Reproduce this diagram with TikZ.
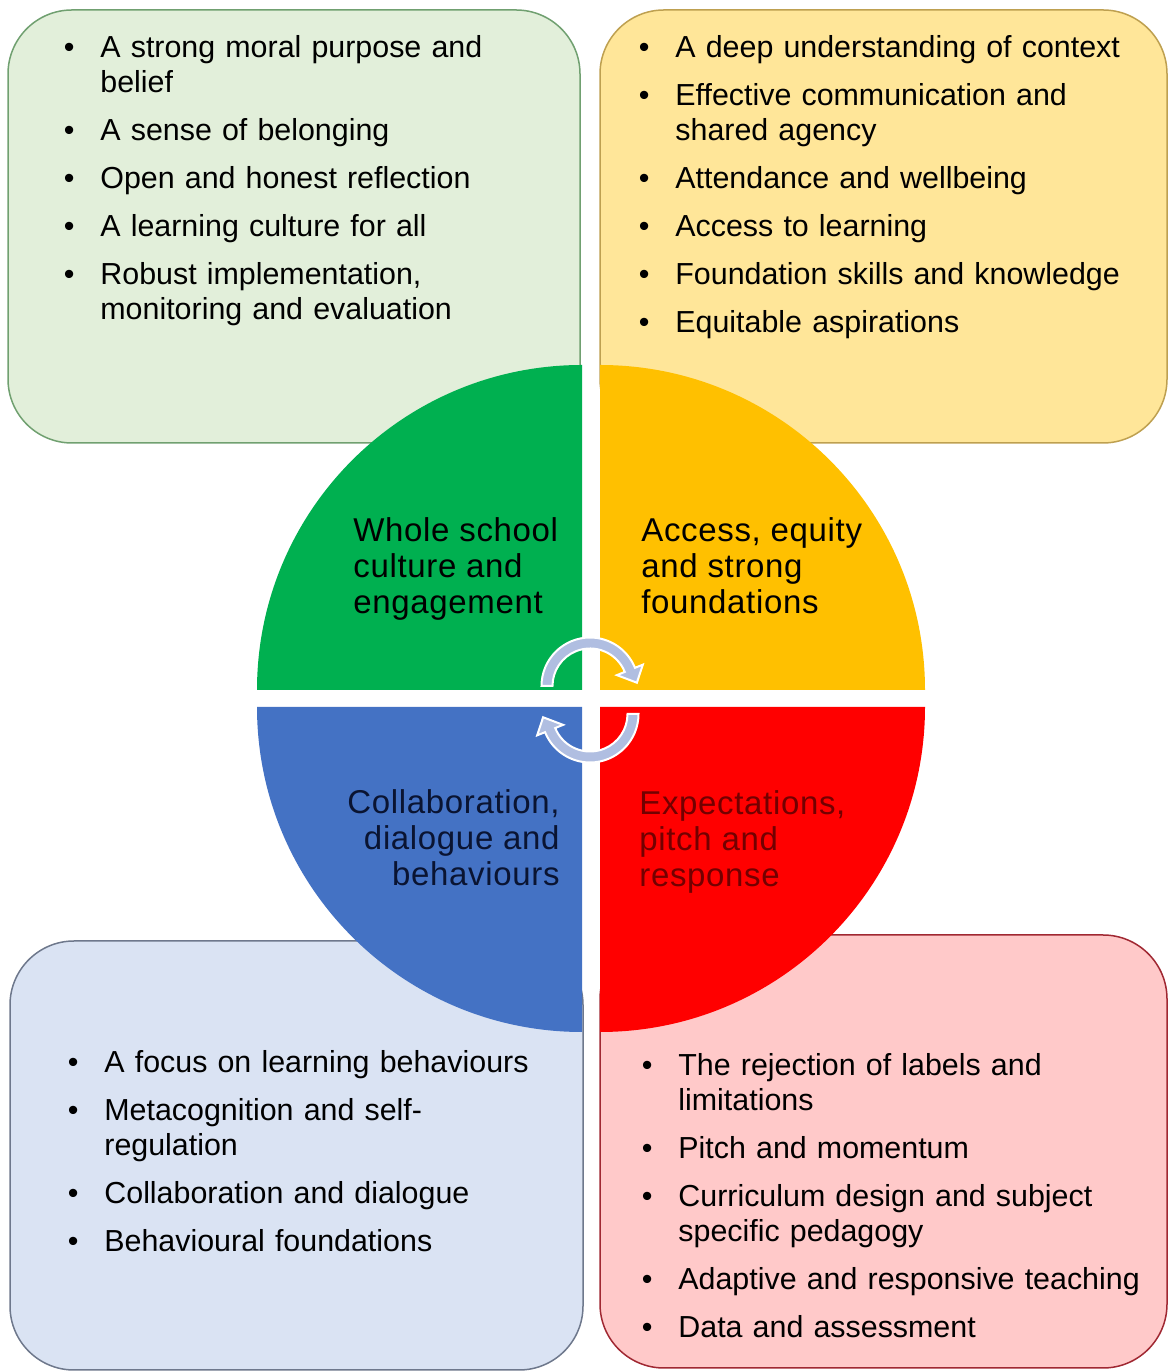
\documentclass[tikz,border=0pt]{standalone}
\usepackage{fontspec}
\setmainfont{Liberation Sans}
\usetikzlibrary{fit}

\definecolor{wheelgreen}{RGB}{0,176,80}
\definecolor{wheelyellow}{RGB}{255,192,0}
\definecolor{wheelblue}{RGB}{68,114,196}
\definecolor{wheelred}{RGB}{255,0,0}
\definecolor{greenpanel}{RGB}{226,239,218}
\definecolor{greenedge}{RGB}{112,160,112}
\definecolor{yellowpanel}{RGB}{255,230,153}
\definecolor{yellowedge}{RGB}{190,160,80}
\definecolor{bluepanel}{RGB}{218,227,243}
\definecolor{blueedge}{RGB}{110,120,140}
\definecolor{redpanel}{RGB}{255,201,201}
\definecolor{rededge}{RGB}{160,40,50}
\definecolor{turnblue}{RGB}{176,190,225}
\definecolor{navytext}{RGB}{10,20,50}
\definecolor{maroontext}{RGB}{115,0,0}

% bulleted list used inside the four panels
\newcommand{\pointlist}[1]{%
  \begin{list}{\textbullet}{%
    \setlength{\leftmargin}{20pt}\setlength{\labelsep}{13pt}%
    \setlength{\labelwidth}{7pt}\setlength{\topsep}{0pt}%
    \setlength{\partopsep}{0pt}\setlength{\parsep}{0pt}%
    \setlength{\itemsep}{6.5pt}}#1\end{list}}

\tikzset{
  panel/.style={draw, line width=0.75pt, rounded corners=32pt, inner sep=0pt},
  points/.style={anchor=north west, inner sep=0pt, text width=262pt, align=left,
    font=\fontsize{15.2}{17.5}\selectfont},
  quarter/.style={inner sep=0pt,
    font=\fontsize{16.5}{18}\selectfont\addfontfeature{LetterSpace=2}},
  turn/.style={fill=turnblue, draw=white, line width=1pt}
}

\begin{document}
\begin{tikzpicture}[x=0.5pt, y=0.5pt]
    \useasboundingbox (0,0) rectangle (1168,1371);

    % panels
    \node[panel, draw=greenedge, fill=greenpanel, fit={(8,928) (580,1361)}] (culturebox) {};
    \node[panel, draw=yellowedge, fill=yellowpanel, fit={(600,928) (1167,1361)}] (accessbox) {};
    \node[panel, draw=blueedge, fill=bluepanel, fit={(10,1) (583,430)}] (collabbox) {};
    \node[panel, draw=rededge, fill=redpanel, fit={(600,3) (1167,436)}] (expectbox) {};

    % the wheel
    \fill[wheelgreen] (582,681) -- ++(-325,0) arc[start angle=180, end angle=90, radius=325] -- cycle;
    \fill[wheelyellow] (600,681) -- ++(0,325) arc[start angle=90, end angle=0, radius=325] -- cycle;
    \fill[wheelblue] (582,664) -- ++(0,-325) arc[start angle=270, end angle=180, radius=325] -- cycle;
    \fill[wheelred] (600,664) -- ++(325,0) arc[start angle=0, end angle=-90, radius=325] -- cycle;

    \node[quarter, anchor=north west, align=left] (culture) at (353,854)
        {Whole school\\culture and\\engagement};
    \node[quarter, anchor=north west, align=left] (access) at (641,854)
        {Access, equity\\and strong\\foundations};
    \node[quarter, anchor=north east, align=right, text=navytext] (collab) at (560,582)
        {Collaboration,\\dialogue and\\behaviours};
    \node[quarter, anchor=north west, align=left, text=maroontext] (expect) at (639,581)
        {Expectations,\\pitch and\\response};

    % cycle arrows in the middle
    \foreach \cx/\cy/\rot in {590/685/0, 590/657/180}{
        \begin{scope}[shift={(\cx,\cy)}, rotate=\rot]
            \filldraw[turn] (180:48.5) arc[start angle=180, end angle=22, radius=48.5]
                -- (22:57) -- (4:47) -- (22:29) -- (22:37.5)
                arc[start angle=22, end angle=180, radius=37.5] -- cycle;
        \end{scope}
    }

    % panel texts
    \node[points] (culturelist) at (60,1349) {\pointlist{%
        \item A strong moral purpose and\newline belief
        \item A sense of belonging
        \item Open and honest reflection
        \item A learning culture for all
        \item Robust implementation,\newline monitoring and evaluation}};
    \node[points] (accesslist) at (635,1349) {\pointlist{%
        \item A deep understanding of context
        \item Effective communication and\newline shared agency
        \item Attendance and wellbeing
        \item Access to learning
        \item Foundation skills and knowledge
        \item Equitable aspirations}};
    \node[points] (collablist) at (64,334) {\pointlist{%
        \item A focus on learning behaviours
        \item Metacognition and self-\newline regulation
        \item Collaboration and dialogue
        \item Behavioural foundations}};
    \node[points] (expectlist) at (638,331) {\pointlist{%
        \item The rejection of labels and\newline limitations
        \item Pitch and momentum
        \item Curriculum design and subject\newline specific pedagogy
        \item Adaptive and responsive teaching
        \item Data and assessment}};

\end{tikzpicture}
\end{document}
